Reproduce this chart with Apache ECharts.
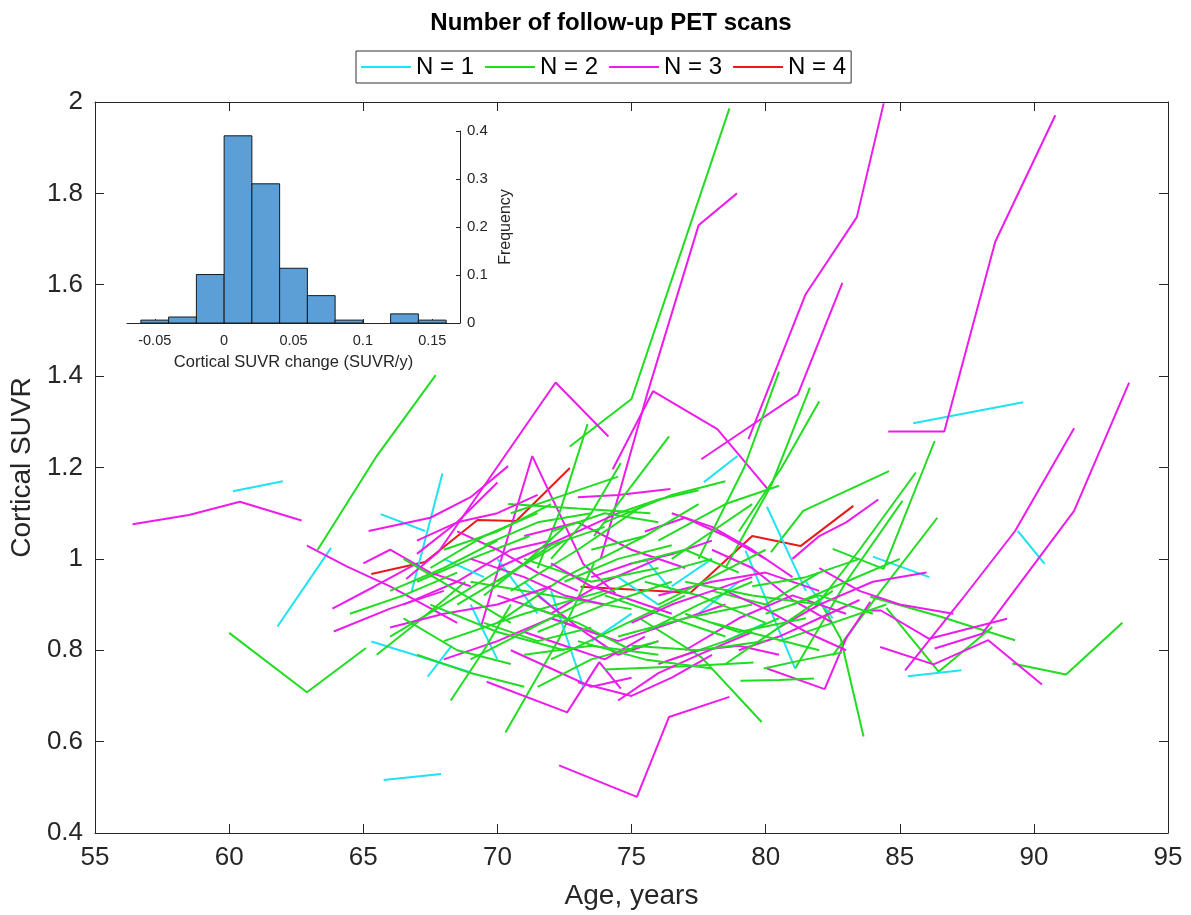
<!DOCTYPE html>
<html><head><meta charset="utf-8">
<script src="https://cdn.jsdelivr.net/npm/echarts@6/dist/echarts.min.js"></script>
<style>html,body{margin:0;padding:0;background:#fff}#c{width:1191px;height:915px}</style>
</head><body><div id="c"></div>
<script>
// ---- Histogram (inset) ----
const binEdges = [-0.06,-0.04,-0.02,0,0.02,0.04,0.06,0.08,0.10,0.12,0.14,0.16];
const binFreq  = [0.006,0.0125,0.101,0.39,0.29,0.114,0.057,0.006,0,0.019,0.006];
const insetTicks = [-0.05,0,0.05,0.1,0.15];

// ---- Trajectories: [age, SUVR] points ----
const cyanLines = [
 [[60.14,1.148],[62.0,1.170]],
 [[61.8,0.852],[63.8,1.024]],
 [[65.76,0.516],[67.9,0.529]],
 [[85.5,1.297],[89.6,1.343]],
 [[89.4,1.061],[90.4,0.989]],
 [[85.3,0.743],[87.3,0.756]],
 [[84.0,1.005],[86.1,0.96]],
 [[65.65,1.098],[67.3,1.061]],
 [[66.8,0.928],[67.95,1.187]],
 [[65.3,0.819],[69.0,0.752]],
 [[67.4,0.742],[68.3,0.81]],
 [[80.05,1.114],[81.5,0.93]],
 [[79.25,1.018],[81.1,0.76]],
 [[77.7,1.168],[78.95,1.225]],
 [[72.0,0.93],[73.2,0.72]],
 [[70.0,1.0],[71.5,0.88]],
 [[74.5,0.96],[76.0,0.9]],
 [[69.0,0.9],[70.0,0.78]],
 [[76.5,0.94],[78.0,1.0]],
 [[81.5,0.95],[82.5,0.87]],
 [[71.0,0.95],[72.5,0.87]],
 [[73.5,0.82],[75.0,0.88]],
 [[75.5,1.0],[76.5,0.93]],
 [[77.5,0.88],[79.0,0.95]],
 [[68.0,1.0],[69.5,0.96]],
 [[78.5,0.82],[80.0,0.86]]
];
const greenLines = [
 [[63.3,1.02],[65.5,1.225],[67.7,1.402]],
 [[60.0,0.838],[62.9,0.708],[65.1,0.805]],
 [[72.7,1.246],[75.0,1.35],[78.65,1.986]],
 [[89.2,0.771],[91.2,0.747],[93.3,0.860]],
 [[84.5,0.893],[86.45,0.753],[88.45,0.851]],
 [[83.9,0.917],[86.5,0.874],[89.3,0.822]],
 [[82.5,1.022],[84.4,0.978],[86.3,1.258]],
 [[80.2,1.015],[81.4,1.105],[84.6,1.192]],
 [[81.8,0.891],[83.5,1.02],[85.6,1.189]],
 [[82.5,0.789],[84.3,0.93],[86.4,1.09]],
 [[81.1,0.76],[83.0,0.95],[85.1,1.127]],
 [[70.3,0.62],[72.3,0.825],[73.6,0.99]],
 [[75.3,0.87],[77.6,0.785],[79.85,0.643]],
 [[82.0,0.91],[82.8,0.825],[83.65,0.611]],
 [[74.0,0.758],[77.0,0.765],[79.55,0.773]],
 [[79.06,0.733],[80.5,0.735],[81.8,0.738]],
 [[79.93,0.76],[81.5,0.78],[82.85,0.795]],
 [[70.4,1.12],[73.0,1.11],[75.7,1.10]],
 [[71.5,0.98],[72.36,1.109],[73.36,1.295]],
 [[73.6,1.05],[75.0,1.16],[76.4,1.268]],
 [[77.5,1.0],[79.2,1.2],[80.5,1.41]],
 [[78.5,0.98],[80.2,1.16],[81.65,1.375]],
 [[79.0,1.06],[80.6,1.2],[82.0,1.345]],
 [[65.5,0.79],[67.0,0.86],[68.8,0.95]],
 [[66.0,0.83],[68.0,0.90],[70.2,0.98]],
 [[67.0,0.95],[69.0,1.0],[71.2,1.05]],
 [[68.26,0.69],[69.5,0.8],[70.5,0.9]],
 [[68.0,0.82],[71.0,0.88],[74.0,0.93]],
 [[69.0,0.95],[72.0,0.92],[75.0,0.89]],
 [[70.0,0.86],[72.5,0.96],[75.5,1.05]],
 [[71.0,1.0],[73.5,0.95],[76.0,0.98]],
 [[72.0,0.78],[74.5,0.85],[77.0,0.92]],
 [[73.0,0.9],[75.5,0.96],[78.0,1.0]],
 [[74.5,0.83],[77.0,0.87],[79.5,0.9]],
 [[75.5,0.95],[77.5,0.92],[80.0,0.86]],
 [[76.0,1.04],[78.5,1.12],[80.5,1.16]],
 [[77.0,0.88],[79.0,0.84],[81.5,0.87]],
 [[78.0,0.93],[80.0,0.9],[82.0,0.97]],
 [[66.5,1.0],[68.5,0.93],[70.5,0.86]],
 [[69.5,1.03],[71.5,1.08],[73.5,1.1]],
 [[67.5,0.9],[70.0,0.84],[72.5,0.8]],
 [[71.5,0.72],[73.5,0.78],[76.0,0.82]],
 [[64.5,0.88],[66.5,0.92],[68.5,0.97]],
 [[80.5,0.82],[82.5,0.86],[84.5,0.9]],
 [[70.5,0.93],[73.0,1.02],[75.5,1.12]],
 [[74.0,1.08],[76.5,1.14],[78.5,1.17]],
 [[72.0,1.0],[73.5,1.1],[74.6,1.21]],
 [[76.5,0.78],[78.5,0.82],[80.5,0.87]],
 [[66.5,0.87],[68.5,0.80],[70.5,0.77]],
 [[67.5,0.98],[69.5,1.05],[71.5,1.1]],
 [[68.5,0.9],[70.5,0.97],[72.5,1.04]],
 [[69.5,0.86],[71.5,0.82],[73.5,0.85]],
 [[70.0,0.95],[72.0,1.03],[74.0,1.07]],
 [[71.0,0.9],[73.0,0.86],[75.0,0.8]],
 [[71.5,0.84],[74.0,0.9],[76.5,0.95]],
 [[72.5,0.95],[74.5,1.0],[76.5,1.03]],
 [[73.0,0.82],[75.5,0.78],[78.0,0.76]],
 [[73.5,1.02],[75.5,1.05],[77.5,1.12]],
 [[74.0,0.92],[76.0,0.88],[78.5,0.83]],
 [[75.0,0.99],[77.0,1.02],[79.0,0.97]],
 [[75.5,0.84],[77.5,0.9],[79.5,0.95]],
 [[76.0,0.9],[78.0,0.96],[80.0,1.02]],
 [[77.0,0.95],[79.5,0.92],[82.0,0.9]],
 [[78.0,0.86],[80.0,0.83],[82.0,0.8]],
 [[78.5,0.77],[80.5,0.85],[82.5,0.93]],
 [[79.5,0.94],[81.5,0.96],[83.5,1.0]],
 [[80.0,0.88],[82.0,0.92],[84.0,0.88]],
 [[68.0,1.02],[70.0,1.06],[72.0,1.12]],
 [[66.0,0.93],[68.0,0.98],[70.0,1.04]],
 [[69.0,0.78],[71.0,0.84],[73.0,0.9]],
 [[72.0,1.06],[74.0,1.1],[76.0,1.08]],
 [[74.5,1.1],[76.0,1.13],[77.5,1.15]],
 [[70.5,1.1],[72.5,1.14],[74.5,1.18]],
 [[76.5,1.0],[78.0,1.06],[79.5,1.12]],
 [[81.0,0.9],[83.0,0.95],[85.0,1.0]],
 [[67.0,0.79],[69.0,0.75],[71.0,0.72]],
 [[71.0,0.79],[73.5,0.81],[76.0,0.79]],
 [[75.0,0.81],[77.5,0.8],[80.0,0.82]],
 [[69.5,0.92],[71.0,0.99],[72.5,1.07]]
];
const magentaLines = [
 [[56.4,1.076],[58.5,1.096],[60.4,1.125],[62.7,1.084]],
 [[73.85,1.0],[75.58,1.36],[77.5,1.73],[78.93,1.80]],
 [[74.3,1.196],[75.8,1.367],[78.2,1.284],[80.07,1.153]],
 [[79.36,1.262],[81.48,1.578],[83.4,1.748],[84.4,1.997]],
 [[77.6,1.218],[79.8,1.305],[81.2,1.36],[82.86,1.604]],
 [[84.57,1.279],[86.66,1.279],[88.56,1.694],[90.8,1.971]],
 [[85.2,0.756],[87.3,0.91],[89.3,1.061],[91.5,1.286]],
 [[86.3,0.804],[88.07,0.836],[91.5,1.105],[93.55,1.386]],
 [[84.27,0.807],[86.26,0.769],[88.3,0.822],[90.3,0.725]],
 [[83.9,0.887],[84.3,0.887],[86.1,0.825],[89.0,0.869]],
 [[72.3,0.548],[75.2,0.479],[76.4,0.654],[78.65,0.698]],
 [[69.6,0.731],[72.6,0.664],[73.8,0.774],[74.6,0.716]],
 [[80.05,0.76],[82.2,0.715],[83.0,0.826],[83.9,0.906]],
 [[66.6,0.956],[67.8,1.015],[72.17,1.386],[74.14,1.268]],
 [[69.4,0.854],[71.3,1.225],[73.2,0.989],[74.4,0.924]],
 [[65.2,1.061],[67.5,1.09],[69.0,1.135],[70.4,1.203]],
 [[67.0,1.011],[68.5,1.08],[70.0,1.167]],
 [[73.0,1.135],[74.5,1.14],[76.45,1.153]],
 [[62.9,1.029],[64.4,0.983],[66.0,0.94],[68.5,0.86]],
 [[63.85,0.891],[65.4,0.939],[67.0,0.99]],
 [[63.9,0.841],[66.0,0.891],[68.0,0.93]],
 [[66.5,0.9],[68.5,0.95],[70.5,1.02],[72.0,1.04]],
 [[68.0,0.78],[70.0,0.82],[72.0,0.87],[74.0,0.83]],
 [[70.0,0.92],[72.0,0.88],[74.0,0.95],[76.0,1.0]],
 [[71.0,1.05],[73.0,1.08],[75.0,1.02],[77.0,0.98]],
 [[72.5,0.86],[74.5,0.82],[76.5,0.86],[78.5,0.9]],
 [[74.5,0.69],[76.0,0.75],[77.5,0.79],[79.5,0.84]],
 [[75.5,1.06],[77.0,1.09],[78.5,1.05],[80.0,1.0]],
 [[76.0,0.92],[78.0,0.95],[80.0,0.97],[82.0,0.93]],
 [[77.0,0.8],[79.0,0.87],[81.0,0.92],[83.0,0.88]],
 [[78.0,1.02],[79.5,0.98],[81.0,0.91],[82.5,0.86]],
 [[80.5,0.85],[82.0,0.9],[84.0,0.95],[86.0,0.97]],
 [[73.0,0.73],[75.0,0.7],[76.5,0.74],[78.0,0.79]],
 [[69.0,1.0],[71.0,0.96],[72.5,0.92],[74.0,0.9]],
 [[65.0,0.99],[66.0,1.02],[67.5,0.97],[69.0,0.94]],
 [[81.0,1.0],[82.0,1.05],[83.0,1.08],[84.2,1.13]],
 [[70.5,0.8],[72.0,0.76],[73.5,0.72],[75.0,0.74]],
 [[66.0,0.85],[68.0,0.88],[70.0,0.9],[72.0,0.94]],
 [[68.5,1.06],[70.0,1.02],[71.5,0.97],[73.0,0.93]],
 [[70.0,0.98],[71.5,1.02],[73.0,1.06],[74.5,1.1]],
 [[71.5,0.92],[73.0,0.85],[74.5,0.79],[76.0,0.82]],
 [[73.5,0.96],[75.0,0.99],[76.5,1.01],[78.0,1.04]],
 [[75.0,0.86],[76.5,0.9],[78.0,0.93],[79.5,0.96]],
 [[76.5,1.1],[78.0,1.07],[79.5,1.02],[81.0,0.96]],
 [[78.5,0.93],[80.0,0.89],[81.5,0.84],[83.0,0.8]],
 [[79.0,0.8],[80.5,0.83],[82.0,0.87],[83.5,0.91]],
 [[67.0,1.04],[68.5,1.08],[70.0,1.1],[71.5,1.14]],
 [[72.0,0.99],[73.5,0.94],[75.0,0.91],[76.5,0.88]],
 [[82.0,0.98],[83.5,0.93],[85.0,0.9],[87.0,0.88]],
 [[71.0,0.84],[72.5,0.81],[74.0,0.78],[75.5,0.83]],
 [[76.0,0.77],[77.5,0.8],[79.0,0.81],[80.5,0.79]]
];
const redLines = [
 [[65.3,0.967],[67.3,0.993],[69.26,1.085],[70.7,1.083],[72.7,1.199]],
 [[73.1,0.939],[77.2,0.926],[79.5,1.050],[81.3,1.028],[83.27,1.116]]
];
const groups = [
 {name:'N = 1', color:'#1fe3f0', lines:cyanLines},
 {name:'N = 2', color:'#22dc22', lines:greenLines},
 {name:'N = 3', color:'#ec1cec', lines:magentaLines},
 {name:'N = 4', color:'#ea1a1a', lines:redLines}
];

const FONT = 'Liberation Sans, Arial, sans-serif';
const AX = '#262626';
const series = [];
const maxLen = Math.max(...groups.map(g=>g.lines.length));
for (let i=0;i<maxLen;i++){
  for (const g of groups){
    const ln = g.lines[i];
    if(!ln) continue;
    series.push({
      type:'line', name:g.name, xAxisIndex:0, yAxisIndex:0, data:ln,
      symbol:'none', showSymbol:false, silent:true, animation:false,
      lineStyle:{width:2, color:g.color}, itemStyle:{color:g.color},
      emphasis:{disabled:true}, z:2
    });
  }
}
const histData = [];
for (let i=0;i<binFreq.length;i++){ if(binFreq[i]>0) histData.push([binEdges[i],binEdges[i+1],binFreq[i]]); }
series.push({
  type:'custom', xAxisIndex:2, yAxisIndex:2, data:histData, silent:true, animation:false, z:5,
  encode:{x:[0,1], y:2},
  renderItem:(params, api)=>{
    const p0 = api.coord([api.value(0), api.value(2)]);
    const p1 = api.coord([api.value(1), 0]);
    return {type:'rect', shape:{x:p0[0], y:p0[1], width:p1[0]-p0[0], height:p1[1]-p0[1]},
      style:{fill:'#5b9fd6', stroke:'#1a1a1a', lineWidth:1}};
  }
});

const chart = echarts.init(document.getElementById('c'), null, {renderer:'canvas'});
chart.setOption({
  animation:false,
  backgroundColor:'#fff',
  textStyle:{fontFamily:FONT},
  graphic:[{type:'text', style:{text:'Number of follow-up PET scans', x:611, y:23, textAlign:'center', textVerticalAlign:'middle',
    font:'bold 24px '+FONT, fill:'#000'}}],
  legend:{data:groups.map(g=>g.name), left:356, top:51, icon:'rect', itemWidth:50, itemHeight:2, itemGap:11,
    padding:[4,5,4,5], borderColor:'#333', borderWidth:1, selectedMode:false,
    textStyle:{fontSize:24, color:'#000', fontFamily:FONT}},
  grid:[
    {left:94, right:23, top:102, bottom:80},
    {left:127, top:131, width:333, height:192}
  ],
  xAxis:[
    {gridIndex:0, type:'value', min:55, max:95, interval:5,
     axisLine:{lineStyle:{color:AX, width:1}}, axisTick:{inside:true, length:9, lineStyle:{color:AX}},
     axisLabel:{fontSize:26, color:AX, margin:12}, splitLine:{show:false},
     name:'Age, years', nameLocation:'middle', nameGap:49, nameTextStyle:{fontSize:28, color:AX}},
    {gridIndex:0, type:'value', position:'top', min:55, max:95, interval:5,
     axisLine:{lineStyle:{color:AX, width:1}}, axisTick:{inside:true, length:9, lineStyle:{color:AX}},
     axisLabel:{show:false}, splitLine:{show:false}},
    {gridIndex:1, type:'value', min:-0.07, max:0.17,
     axisLine:{onZero:false, lineStyle:{color:AX, width:1}},
     axisTick:{inside:true, length:4, customValues:insetTicks, lineStyle:{color:AX}},
     axisLabel:{fontSize:14.5, color:AX, margin:10, customValues:insetTicks}, splitLine:{show:false},
     name:'Cortical SUVR change (SUVR/y)', nameLocation:'middle', nameGap:31, nameTextStyle:{fontSize:16.5, color:AX}}
  ],
  yAxis:[
    {gridIndex:0, type:'value', min:0.4, max:2, interval:0.2,
     axisLine:{show:true, onZero:false, lineStyle:{color:AX, width:1}}, axisTick:{show:true, inside:true, length:9, lineStyle:{color:AX}},
     axisLabel:{fontSize:26, color:AX, margin:12, formatter:v=>String(+v.toFixed(1))}, splitLine:{show:false},
     name:'Cortical SUVR', nameLocation:'middle', nameGap:52, nameRotate:90, nameTextStyle:{fontSize:28, color:AX}},
    {gridIndex:0, type:'value', position:'right', min:0.4, max:2, interval:0.2,
     axisLine:{show:true, onZero:false, lineStyle:{color:AX, width:1}}, axisTick:{show:true, inside:true, length:9, lineStyle:{color:AX}},
     axisLabel:{show:false}, splitLine:{show:false}},
    {gridIndex:1, type:'value', position:'right', min:0, max:0.4, interval:0.1,
     axisLine:{show:true, onZero:false, lineStyle:{color:AX, width:1}}, axisTick:{show:true, inside:true, length:4, lineStyle:{color:AX}},
     axisLabel:{fontSize:15, color:AX, margin:7, formatter:v=>String(+v.toFixed(1))}, splitLine:{show:false},
     name:'Frequency', nameLocation:'middle', nameGap:38, nameRotate:90, nameTextStyle:{fontSize:16, color:AX}}
  ],
  series:series
});
</script></body></html>
